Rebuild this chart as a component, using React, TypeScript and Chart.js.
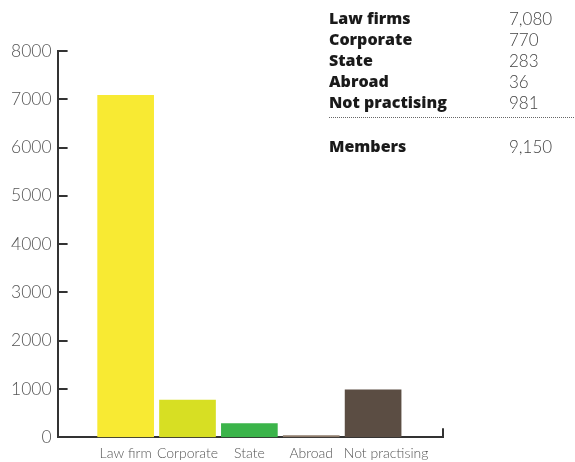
import React, { useEffect, useRef } from "react";
import { Chart, registerables } from "chart.js";

Chart.register(...registerables);

const categories = ["Law firm", "Corporate", "State", "Abroad", "Not practising"];
const memberCounts = [7080, 770, 283, 36, 981];
const barColors = ["#F8EA33", "#D7DF23", "#3BB44A", "#8E7C6C", "#5B4D43"];
const labelShift = [0, 0, 0, 0, 0.21];
const tableLabels = ["Law firms", "Corporate", "State", "Abroad", "Not practising"];
const tableValues = ["7,080", "770", "283", "36", "981"];
const totalLabel = "Members";
const totalValue = "9,150";

const insideTicks = {
  id: "insideTicks",
  afterDraw(chart: any) {
    const { ctx, chartArea, scales } = chart;
    const y = scales.y;
    ctx.save();
    ctx.strokeStyle = "#333";
    ctx.lineWidth = 2;
    y.ticks.forEach((t: any) => {
      const py = Math.round(y.getPixelForValue(t.value));
      ctx.beginPath();
      ctx.moveTo(chartArea.left, py);
      ctx.lineTo(chartArea.left + 10, py);
      ctx.stroke();
    });
    ctx.beginPath();
    ctx.moveTo(chartArea.right, chartArea.bottom);
    ctx.lineTo(chartArea.right, chartArea.bottom - 9);
    ctx.stroke();
    ctx.restore();
  },
};

export default function App() {
  const ref = useRef<HTMLCanvasElement>(null);
  useEffect(() => {
    document.body.style.margin = "0";
    const chart = new Chart(ref.current!, {
      type: "bar",
      data: {
        datasets: [
          {
            data: memberCounts.map((v, i) => ({ x: i + 1, y: v })),
            backgroundColor: barColors,
            barThickness: 56,
          },
        ],
      },
      options: {
        animation: false,
        responsive: false,
        layout: { padding: { top: 51, right: 132, bottom: 0, left: 5 } },
        plugins: { legend: { display: false }, tooltip: { enabled: false } },
        scales: {
          x: {
            type: "linear",
            offset: false,
            min: -0.1,
            max: 6.13,
            afterBuildTicks: (scale: any) => {
              scale.ticks = categories.map((_, i) => ({ value: i + 1 + labelShift[i] }));
            },
            grid: { display: false, drawTicks: false, offset: false },
            border: { display: true, color: "#333", width: 2 },
            ticks: {
              autoSkip: false,
              maxRotation: 0,
              padding: 8,
              color: "#555",
              font: { family: "Lato", size: 14, weight: 300 },
              callback: (_v: any, i: number) => categories[i] ?? "",
            },
          },
          y: {
            min: 0,
            max: 8000,
            ticks: {
              stepSize: 1000,
              padding: 6,
              color: "#555",
              font: { family: "Lato", size: 17.5, weight: 300 },
              callback: (v: any) => String(v),
            },
            grid: { display: false, drawTicks: false },
            border: { display: true, color: "#333", width: 2 },
          },
        },
      },
      plugins: [insideTicks],
    });
    return () => chart.destroy();
  }, []);

  const boldStyle: React.CSSProperties = {
    position: "absolute",
    left: 329,
    fontFamily: "'Open Sans', Lato, sans-serif",
    fontWeight: 800,
    fontSize: 16,
    color: "#1a1a1a",
    lineHeight: "21px",
    whiteSpace: "nowrap",
  };
  const valStyle: React.CSSProperties = {
    position: "absolute",
    left: 509,
    fontFamily: "Lato, 'Open Sans', sans-serif",
    fontWeight: 300,
    fontSize: 17,
    color: "#444",
    lineHeight: "21px",
    whiteSpace: "nowrap",
  };

  return (
    <div style={{ position: "relative", width: 575, height: 462, background: "#fff", overflow: "hidden" }}>
      <canvas ref={ref} width={575} height={470} />
      {tableLabels.map((l, i) => (
        <React.Fragment key={l}>
          <div style={{ ...boldStyle, top: 8 + i * 21 }}>{l}</div>
          <div style={{ ...valStyle, top: 8 + i * 21 }}>{tableValues[i]}</div>
        </React.Fragment>
      ))}
      <div
        style={{
          position: "absolute",
          left: 329,
          top: 117,
          width: 245,
          borderTop: "1px dotted #666",
        }}
      />
      <div style={{ ...boldStyle, top: 136 }}>{totalLabel}</div>
      <div style={{ ...valStyle, top: 136 }}>{totalValue}</div>
    </div>
  );
}
